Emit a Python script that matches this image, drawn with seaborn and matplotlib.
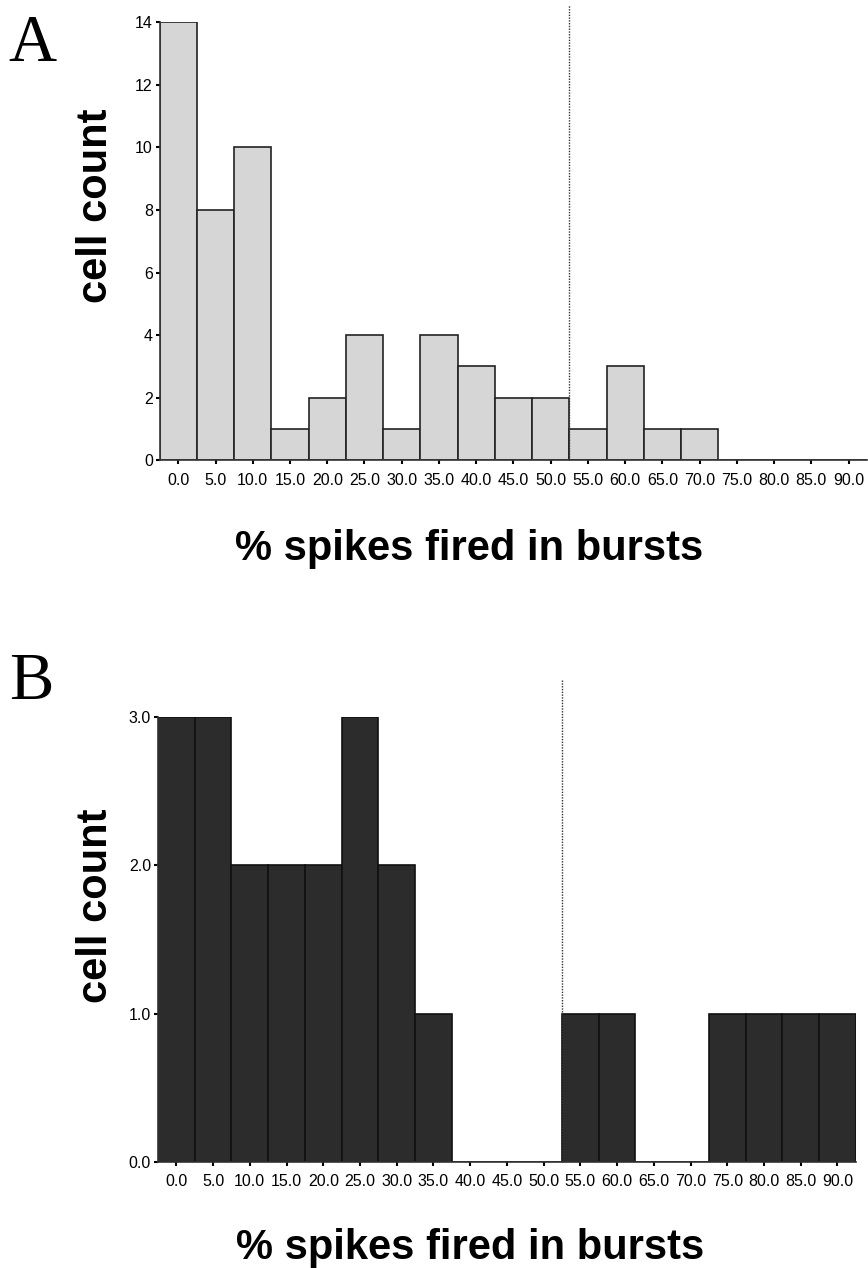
import numpy as np
import pandas as pd
import matplotlib
matplotlib.use("Agg")
import matplotlib.pyplot as plt
import seaborn as sns

# bin centres (% spikes fired in bursts) and cell counts
bin_centres = [0, 5, 10, 15, 20, 25, 30, 35, 40, 45, 50, 55, 60, 65, 70, 75, 80, 85, 90]
counts_a = [14, 8, 10, 1, 2, 4, 1, 4, 3, 2, 2, 1, 3, 1, 1, 0, 0, 0, 0]
counts_b = [3, 3, 2, 2, 2, 3, 2, 1, 0, 0, 0, 1, 1, 0, 0, 1, 1, 1, 1]
x_ticklabels = [f"{c:.1f}" for c in bin_centres]
yticks_a = [0, 2, 4, 6, 8, 10, 12, 14]
yticks_b = [0, 1, 2, 3]
yticklabels_b = ["0.0", "1.0", "2.0", "3.0"]
cutoff = 52.5

sns.set_style("white")
plt.rcParams["font.family"] = ["Liberation Sans", "DejaVu Sans"]
plt.rcParams["text.color"] = "black"
plt.rcParams["axes.labelcolor"] = "black"

fig = plt.figure(figsize=(8.68, 12.68), dpi=100)
ax_a = fig.add_axes([0.184, 0.637, 0.815, 0.3455])
ax_b = fig.add_axes([0.182, 0.0836, 0.804, 0.351])

df_a = pd.DataFrame({"pct": bin_centres, "n": counts_a})
df_b = pd.DataFrame({"pct": bin_centres, "n": counts_b})

sns.histplot(data=df_a, x="pct", weights="n", binwidth=5, binrange=(-2.5, 92.5),
             color="#d6d6d6", edgecolor="#222222", linewidth=1.2, alpha=1, ax=ax_a)
sns.histplot(data=df_b, x="pct", weights="n", binwidth=5, binrange=(-2.5, 92.5),
             color="#2c2c2c", edgecolor="#111111", linewidth=1.2, alpha=1, ax=ax_b)

for ax, top, ext in [(ax_a, 14, 1.04), (ax_b, 3, 1.083)]:
    ax.set_xlim(-2.5, 92.5)
    ax.set_ylim(0, top)
    ax.plot([cutoff, cutoff], [0, ext], transform=ax.get_xaxis_transform(),
            color="#333333", linestyle=(0, (1, 1)), linewidth=1.0, clip_on=False)
    ax.set_xticks(bin_centres)
    ax.set_xticklabels(x_ticklabels, fontsize=11.5)
    ax.tick_params(axis="both", direction="out", length=3, width=1.5, pad=6,
                   bottom=True, left=True, colors="black")
    for s in ["top", "right"]:
        ax.spines[s].set_visible(False)
    for s in ["left", "bottom"]:
        ax.spines[s].set_color("#333333")
        ax.spines[s].set_linewidth(1.2)
    ax.set_ylabel("cell count", fontsize=30, fontweight="bold")
    ax.set_xlabel("% spikes fired in bursts", fontsize=30, fontweight="bold")

ax_a.xaxis.set_label_coords(0.438, -0.157)
ax_b.xaxis.set_label_coords(0.447, -0.148)
ax_a.yaxis.set_label_coords(-0.062, 0.58)
ax_b.yaxis.set_label_coords(-0.06, 0.575)

ax_a.set_yticks(yticks_a)
ax_a.set_yticklabels([str(v) for v in yticks_a], fontsize=11.5)
ax_b.set_yticks(yticks_b)
ax_b.set_yticklabels(yticklabels_b, fontsize=11.5)
ax_a.tick_params(axis="y", pad=2)
ax_b.tick_params(axis="y", pad=2)

fig.text(0.01, 0.965, "A", fontsize=48, family="Liberation Serif", va="center", ha="left")
fig.text(0.01, 0.462, "B", fontsize=48, family="Liberation Serif", va="center", ha="left")

fig.savefig("out.png", dpi=100)
